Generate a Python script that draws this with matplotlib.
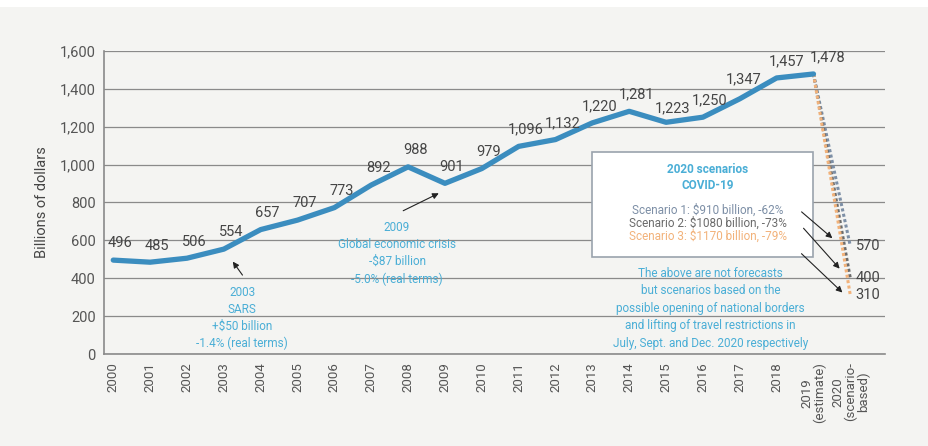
import numpy as np
import matplotlib.pyplot as plt

plt.rcParams['font.family'] = ['Roboto', 'DejaVu Sans']

# international tourism receipts, billions of dollars
years = [2000, 2001, 2002, 2003, 2004, 2005, 2006, 2007, 2008, 2009,
         2010, 2011, 2012, 2013, 2014, 2015, 2016, 2017, 2018, 2019]
receipts = [496, 485, 506, 554, 657, 707, 773, 892, 988, 901,
            979, 1096, 1132, 1220, 1281, 1223, 1250, 1347, 1457, 1478]

# 2020 scenario end values
scen_values = [570, 400, 310]
scen_colors = ['#7d8fa6', '#6b6b6b', '#f2b27a']
scen_texts = ['Scenario 1: $910 billion, -62%',
              'Scenario 2: $1080 billion, -73%',
              'Scenario 3: $1170 billion, -79%']

xlabels = [str(y) for y in years[:-1]] + ['2019\n(estimate)', '2020\n(scenario-\nbased)']

bg = '#f4f4f2'
blue = '#3b8dbf'
light_blue = '#4aaed6'
txt = '#454545'

fig = plt.figure(figsize=(9.29, 4.46), dpi=100, facecolor=bg)
ax = fig.add_axes([0.112, 0.206, 0.841, 0.68])
ax.set_facecolor(bg)

ax.plot(years, receipts, color=blue, lw=3.8, solid_capstyle='round', zorder=4)

for v, c in zip(scen_values, scen_colors):
    ax.plot([2019, 2020], [receipts[-1], v], color=c, lw=2.2, ls=(0, (1, 0.8)), zorder=3)
    ax.text(2020.15, v, str(v), ha='left', va='center', fontsize=10.5, color=txt)

offsets = {2015: (5, 10), 2017: (3, 14), 2018: (7, 12), 2019: (10, 12)}
for x, y in zip(years, receipts):
    ax.annotate(f'{y:,}', (x, y), xytext=offsets.get(x, (5, 12)), textcoords='offset points',
                ha='center', va='center', fontsize=10.5, color=txt, zorder=5)

ax.set_xlim(1999.75, 2020.95)
ax.set_ylim(0, 1600)
ax.set_yticks(np.arange(0, 1601, 200))
ax.yaxis.set_major_formatter(plt.FuncFormatter(lambda v, p: f'{int(v):,}'))
ax.set_xticks(years + [2020])
ax.set_xticklabels(xlabels, rotation=90, va='top', ha='center', fontsize=9.5,
                   color='#555555', linespacing=0.95)
ax.tick_params(axis='y', labelsize=10.5, labelcolor='#555555', length=0, pad=6)
ax.tick_params(axis='x', length=0, pad=6)
ax.grid(axis='y', color='#8a8a8a', lw=0.9)
ax.set_axisbelow(True)
for s in ['top', 'right']:
    ax.spines[s].set_visible(False)
for s in ['left', 'bottom']:
    ax.spines[s].set_color('#8a8a8a')
    ax.spines[s].set_linewidth(1.2)
ax.set_ylabel('Billions of dollars', fontsize=10.5, color=txt, labelpad=8)

# event notes
ax.text(2003.5, 362, '2003\nSARS\n+$50 billion\n-1.4% (real terms)', ha='center', va='top',
        fontsize=8.5, color=light_blue, linespacing=1.4)
ax.annotate('', xy=(2003.2, 500), xytext=(2003.55, 405),
            arrowprops=dict(arrowstyle='-|>', color='#222222', lw=0.8, mutation_scale=9))
ax.text(2007.7, 702, '2009\nGlobal economic crisis\n-$87 billion\n-5.0% (real terms)', ha='center',
        va='top', fontsize=8.5, color=light_blue, linespacing=1.4)
ax.annotate('', xy=(2008.9, 855), xytext=(2007.8, 750),
            arrowprops=dict(arrowstyle='-|>', color='#222222', lw=0.8, mutation_scale=9))

# scenario box
ax.text(2016.13, 1008, '2020 scenarios\nCOVID-19', ha='center', va='top', fontsize=8.5,
        fontweight='bold', color=light_blue, linespacing=1.25, zorder=7)
box_y = [760, 690, 625]
for t, c, y in zip(scen_texts, scen_colors, box_y):
    ax.text(2016.13, y, t, ha='center', va='center', fontsize=8.5, color=c, zorder=7)
ax.add_patch(plt.Rectangle((2013.0, 510), 6.0, 555, facecolor='white', edgecolor='#9aa3ad',
                           lw=1.2, zorder=6))

arrow_from = [(2018.62, 760), (2018.68, 675), (2018.62, 540)]
arrow_to = [(2019.57, 602), (2019.76, 440), (2019.84, 315)]
for a, b in zip(arrow_from, arrow_to):
    ax.annotate('', xy=b, xytext=a, zorder=8,
                arrowprops=dict(arrowstyle='-|>', color='#222222', lw=0.8, mutation_scale=9))

ax.text(2016.2, 462, 'The above are not forecasts\nbut scenarios based on the\n'
        'possible opening of national borders\nand lifting of travel restrictions in\n'
        'July, Sept. and Dec. 2020 respectively', ha='center', va='top', fontsize=8.5,
        color=light_blue, linespacing=1.45)

fig.patches.append(plt.Rectangle((0, 0.985), 1, 0.015, transform=fig.transFigure,
                                 facecolor='white', edgecolor='none'))

fig.savefig('out.png', dpi=100, facecolor=bg)
